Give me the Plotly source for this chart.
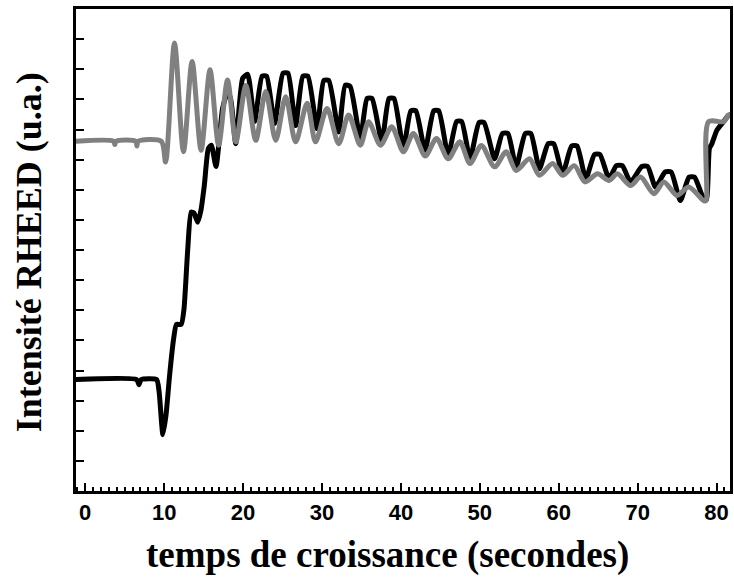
import plotly.graph_objects as go

# Black curve (time in s, intensity in a.u.)
black_t = [-1.2, 6.52, 6.81, 7.09, 9.04, 9.36, 9.84, 10.24, 10.68, 11.19, 11.56, 12.16, 12.51, 12.99,
           13.42, 13.77, 14.25, 14.65, 15.09, 15.60, 15.98, 16.57, 17.40, 17.93, 18.37, 19.07,
           19.95, 20.58, 21.46, 22.41, 22.98, 23.99, 25.06, 25.69, 26.66, 27.58, 28.21, 29.38,
           30.23, 30.86, 32.12, 32.94, 33.57, 34.86, 35.71, 36.34, 37.58, 38.49, 39.12, 40.32,
           41.26, 41.89, 43.05, 44.16, 44.79, 45.99, 47.06, 47.69, 48.76, 49.90, 50.53, 51.88,
           52.86, 53.56, 54.60, 55.76, 56.46, 57.55, 58.66, 59.36, 60.49, 61.63, 62.32, 63.43,
           64.53, 65.22, 66.38, 67.30, 68.06, 69.10, 70.52, 71.27, 72.26, 73.48, 74.24, 75.41,
           76.51, 77.20, 78.36, 78.71, 79.09, 79.41, 80.04, 80.88, 81.51]
black_v = [3.70, 3.70, 3.53, 3.70, 3.70, 3.30, 1.87, 2.53, 3.81, 5.03, 5.53, 5.53, 6.03, 8.03,
           9.26, 9.23, 8.92, 9.30, 10.14, 11.37, 11.48, 10.77, 12.70, 13.13, 13.07, 11.53,
           13.70, 13.83, 12.27, 13.77, 13.77, 12.20, 13.87, 13.87, 12.13, 13.77, 13.77, 12.03,
           13.63, 13.63, 11.92, 13.47, 13.43, 11.70, 13.03, 13.03, 11.59, 13.03, 13.03, 11.37,
           12.62, 12.62, 11.31, 12.62, 12.62, 11.14, 12.27, 12.27, 11.03, 12.23, 12.23, 11.03,
           11.87, 11.87, 10.76, 11.87, 11.87, 10.70, 11.53, 11.53, 10.53, 11.45, 11.45, 10.37,
           11.17, 11.17, 10.37, 10.80, 10.80, 10.26, 10.77, 10.77, 10.09, 10.59, 10.59, 9.64,
           10.42, 10.42, 9.70, 9.67, 11.37, 11.53, 11.98, 12.26, 12.48]

# Gray curve
gray_t = [-1.2, 3.6, 3.75, 3.9, 6.4, 6.55, 6.7, 9.63, 10.18, 11.31, 12.45, 13.54, 14.68, 15.81,
          16.90, 18.03, 19.09, 20.35, 21.61, 22.87, 24.14, 25.40, 26.66, 28.12, 29.18, 30.64,
          32.12, 33.38, 34.86, 35.90, 37.42, 38.84, 40.32, 41.58, 43.09, 44.51, 45.99, 47.46,
          48.76, 50.19, 51.88, 53.34, 54.60, 56.29, 57.55, 59.23, 60.49, 61.97, 63.33, 64.91,
          66.38, 67.43, 69.10, 70.37, 72.06, 73.32, 74.99, 76.47, 78.36, 78.65, 78.99, 80.88,
          81.51, 81.8]
gray_v = [11.61, 11.61, 11.50, 11.61, 11.61, 11.45, 11.61, 11.61, 10.92, 14.87, 11.26, 14.26,
          11.31, 13.98, 11.48, 13.64, 11.59, 13.46, 11.64, 13.26, 11.64, 13.09, 11.59, 12.87,
          11.59, 12.70, 11.53, 12.48, 11.48, 12.26, 11.48, 12.09, 11.26, 11.87, 11.12, 11.70,
          11.03, 11.59, 10.87, 11.47, 10.76, 11.26, 10.64, 11.03, 10.48, 10.87, 10.48, 10.80,
          10.26, 10.53, 10.31, 10.53, 10.14, 10.42, 9.87, 10.26, 9.81, 10.09, 9.64, 9.64,
          12.26, 12.26, 12.48, 12.5]

x_ticks = [0, 10, 20, 30, 40, 50, 60, 70, 80]

fig = go.Figure()
fig.add_trace(go.Scatter(x=black_t, y=black_v, mode="lines",
                         line=dict(color="#000000", width=5, shape="spline", smoothing=0.55),
                         showlegend=False, hoverinfo="skip"))
fig.add_trace(go.Scatter(x=gray_t, y=gray_v, mode="lines",
                         line=dict(color="#808080", width=5, shape="spline", smoothing=0.8),
                         showlegend=False, hoverinfo="skip"))

fig.update_layout(
    width=734, height=583,
    margin=dict(l=76, r=1, t=9, b=92),
    paper_bgcolor="white", plot_bgcolor="white",
    xaxis=dict(range=[-1.17, 81.7], tickmode="array", tickvals=x_ticks,
               ticktext=[str(v) for v in x_ticks],
               ticks="inside", ticklen=8, tickwidth=2, tickcolor="black",
               minor=dict(dtick=1, ticks="inside", ticklen=4, tickwidth=1.5, tickcolor="black"),
               showline=True, linewidth=3, linecolor="black", mirror=True,
               showgrid=False, zeroline=False,
               tickfont=dict(family="Liberation Sans, Arial", size=22, color="black", weight="bold")),
    yaxis=dict(range=[0, 16], dtick=1, tick0=0, showticklabels=False,
               ticks="inside", ticklen=8, tickwidth=2, tickcolor="black",
               showline=True, linewidth=3, linecolor="black", mirror=True,
               showgrid=False, zeroline=False),
    annotations=[
        dict(text="<b>temps de croissance (secondes)</b>", xref="paper", yref="paper",
             x=0.476, y=-0.133, xanchor="center", yanchor="middle", showarrow=False,
             font=dict(family="Liberation Serif, Times New Roman", size=37, color="black")),
        dict(text="<b>Intensité RHEED (u.a.)</b>", xref="paper", yref="paper",
             x=-0.072, y=0.495, xanchor="center", yanchor="middle", showarrow=False, textangle=-90,
             font=dict(family="Liberation Serif, Times New Roman", size=36, color="black")),
    ],
)

fig.write_html("out.html", config={"displayModeBar": False},
               post_script="document.body.style.margin='0';document.body.style.overflow='hidden';")
